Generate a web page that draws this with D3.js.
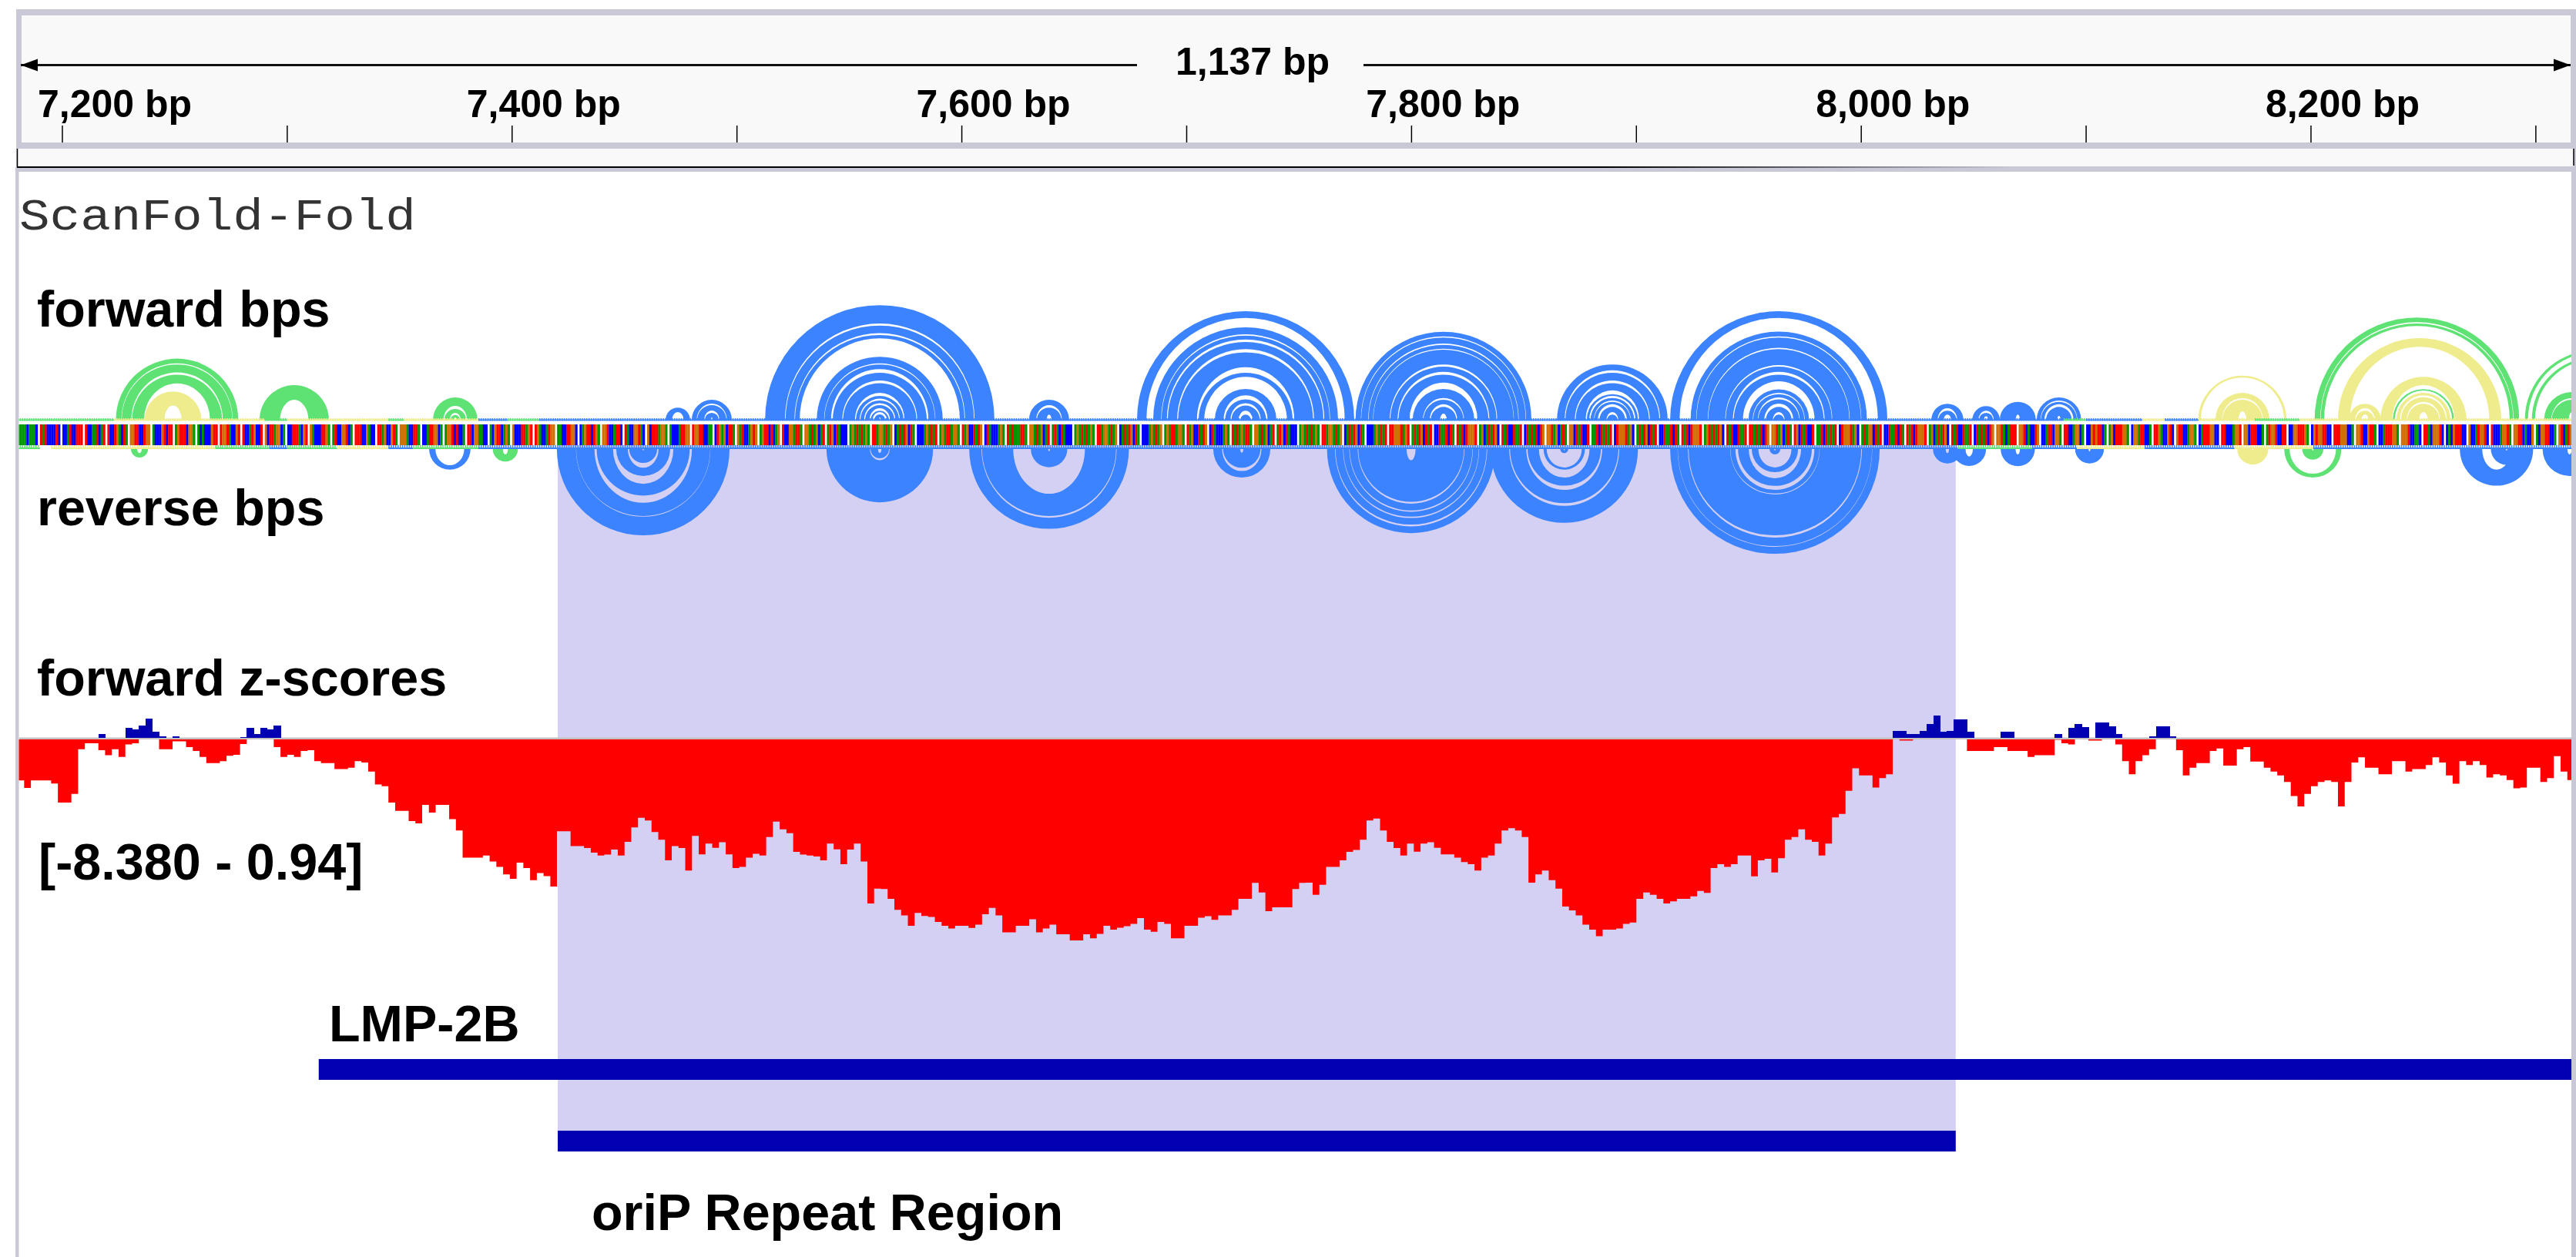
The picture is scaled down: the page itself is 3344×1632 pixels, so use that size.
<!DOCTYPE html>
<html>
<head>
<meta charset="utf-8">
<script src="https://cdn.jsdelivr.net/npm/d3@7"></script>
<style>
  html, body { margin: 0; padding: 0; background: #fff; }
  text { font-family: "Liberation Sans", Arial, sans-serif; font-weight: 700; fill: #000; }
</style>
</head>
<body>
<div id="chart"></div>
<script>
// ---- data ----
const regionStart = 7180, regionEnd = 8317;
const minorTicks = [7200, 7300, 7400, 7500, 7600, 7700, 7800, 7900, 8000, 8100, 8200, 8300];
const labelTicks = [7200, 7400, 7600, 7800, 8000, 8200];
const spanLabel = '1,137 bp';

const features = [
    { name: 'LMP-2B', start: 7314, end: 8317 },
    { name: 'oriP Repeat Region', start: 7420.3, end: 8042 }
];

// sequence, nine bases then one blank position
const baseGroups = ('AAAACAAAC TATCCCCTC CCATCCTTT TCCAATCAT TCCTGACTA GGTTCCTGG ACCCGTCTT AGTTTCGGA ACACCCGTT TGGTACCGT ' +
    'TCCATGCCT GCTTAGGCA CCTTTACGT GACCCTTGA ATCCGGTCA TTTCCGACC TTAGCCGTA GGGACCTTA CCATTGGCA AGGTCTCCA ' +
    'TTCGGAACC ACGTTCAGA GCCCTTAGT TGACCATGG AACCTTGGC CAGTTCTGA GGTCCATTC TACCGGTAC GCTTTAGGA ACCCATTGG ' +
    'TGGTTCCAA CTGAGCTTA GATCCAGTG AGTTCTCAG TCCGGATTA GGATAGCAT ATGCTACCC AGATATAGA TTAGGATAG CATATGCTA ' +
    'CCCAGATAT AGATTAGGA TAGCCTATG CTACCCAGA TATAAATTA GGATAGCAT ATACTACCC AGATATAGA TTAGGATAG CATATGCTA ' +
    'CCCAGATAG AGATTAGGA TAGCCTATG CTACCCAGA TATAGATTA GGATAGCAT ATGCTACCC AGATATAGA TTAGGATAG CATATGCTA ' +
    'CCCAGATAT TTGGGTAGT ATATGCTAT CCTAATCTA TATCTGGGT AGCATATGC TATCCTAAT CTATATCTG GGTAGCATA GGCTATCCT ' +
    'AATCTATAT CTGGGTAGC ATATGCTAT CCTAATCTA TATCTGGGT AGTATATGC TATCCTAAT TTATATCTG GGTAGCATA TGCTATCCT ' +
    'AATCTATAT CTGGGTAGC ATAGGCTAT CCTAATCTA TATCTGGGT AGCATATGC TATCCTAAT CTATATCTG GGTACATTT GGTCACCTG ' +
    'CCATTCGGA TTCCAGGCA CCGTGTTCA AGCTTTGGA CGGATTCCA TTGACCGTC GTTCCAGGA CATTTGGCC TTCCCAGGT GGCTTTCCA ' +
    'ATGGTCCTT CCGGTTTGA CGTGGTTCC TTTGGGCCA GGTCCGTTA CCATTTGGA GGGTCCAAC TTACGGGTC CACGTTTCC GCCATGGTC ' +
    'TCCCAGGTA GGTTCACCG ACGGTTCCA GTCATGG').split(' ');

// base pair arcs: [centre bp, class, [[outer, inner] half spans in bp]]
const forwardArcs = [
    [7251.0, 'green', [[27.2, 25.1], [24.6, 21.1], [20, 16.2]]],
    [7249.2, 'yellow', [[12.6, 6.3]]],
    [7303.1, 'green', [[15.4, 8.9]]],
    [7374.7, 'green', [[9.9, 6.2], [4.8, 3.1], [2.1, 1]]],
    [7473.7, 'blue', [[5.4, 3.4]]],
    [7488.8, 'blue', [[8.9, 7.2], [6.5, 4.1], [3.1, 1]]],
    [7563.5, 'blue', [[51, 42.8], [41.9, 38.5], [37.7, 36.2], [28, 25.1], [24.6, 22.5], [20.9, 17.5], [16.3, 12], [10.6, 9.4], [8.6, 7.4], [6.5, 5.1], [4, 3.4], [2.4, 1]]],
    [7638.8, 'blue', [[8.9, 6.5], [5.4, 2.3]]],
    [7726.2, 'blue', [[48.3, 45.3], [41.1, 38], [37.4, 35.7], [34.6, 31.4], [30, 23.4], [20.9, 19.1], [13.7, 10.9], [9.1, 7.4], [6.3, 4], [2.3, 0.6]]],
    [7814.2, 'blue', [[39.1, 37.1], [36.6, 33.9], [33.3, 31.6], [31.2, 24.6], [23.6, 21.3], [20, 16.5], [13.7, 9.7], [8.9, 6.9], [5.7, 2.7]]],
    [7889.3, 'blue', [[24.6, 22], [20.9, 17.5], [16.3, 13.1], [11.4, 10.6], [9.7, 8.6], [8, 6.9], [5.7, 3.4], [2.3, 0.6]]],
    [7963.3, 'blue', [[48.3, 45.3], [39.2, 37.1], [36.6, 32], [31.4, 24.3], [23.6, 21.3], [20, 17.1], [13.5, 12], [11.4, 9.9], [9.1, 7.2], [5.7, 3.4], [2.3, 0.6]]],
    [8038.3, 'blue', [[7.1, 5.1], [4, 2.3]]],
    [8055.5, 'blue', [[6.1, 4], [3.1, 1.5]]],
    [8069.6, 'blue', [[8, 2.3]]],
    [8087.9, 'blue', [[9.9, 8.6], [8, 6.9], [5.7, 1.7]]],
    [8169.5, 'yellow', [[19.6, 18.8], [12, 9.6], [8.9, 3.8]]],
    [8247.1, 'green', [[45.5, 43.4], [42.8, 41.7]]],
    [8248.3, 'yellow', [[36.3, 32.5]]],
    [8224, 'yellow', [[7.1, 5.1], [4, 2.3]]],
    [8250, 'yellow', [[19.1, 15.4], [12, 10.9], [10, 8], [7.1, 3.4]]],
    [8250, 'green', [[13.6, 13]]],
    [8325.9, 'green', [[30.8, 29.8], [27.7, 26.7]]],
    [8316, 'green', [[12.3, 9.6], [8.9, 3.4]]]
];
const reverseArcs = [
    [7234.3, 'green', [[3.8, 1.8]]],
    [7372.3, 'blue', [[9.2, 7.2]]],
    [7397, 'green', [[5.6, 2.4]]],
    [7458.3, 'blue', [[38.4, 30.1], [29.8, 23.9], [20.7, 15.5], [12, 8.3], [6.2, 0.7]]],
    [7563.5, 'blue', [[23.7, 5], [4.1, 1.7]]],
    [7638.8, 'blue', [[35.5, 30.6], [29.8, 19.9], [8.1, 1]]],
    [7724.5, 'blue', [[12.7, 9.8], [8.3, 1.6]]],
    [7799.8, 'blue', [[37.4, 34.4], [33.6, 30.7], [30.1, 27.9], [27.3, 24.3], [23.5, 5]]],
    [7867.9, 'blue', [[32.8, 25.3], [24.1, 18.2], [16.3, 12.7], [9.2, 8.2], [1.8, 0.6]]],
    [7961.6, 'blue', [[46.6, 43.5], [43.2, 39.4], [38.4, 20.2], [19.8, 18.2], [16.4, 13], [10.3, 8.2], [2.4, 0.7]]],
    [8038.3, 'blue', [[6.4, 1.8]]],
    [8048, 'blue', [[7.5, 3.3]]],
    [8069.6, 'blue', [[7.6, 2.4]]],
    [8101.5, 'blue', [[6.4, 1]]],
    [8174.1, 'yellow', [[6.9, 0.5]]],
    [8200.8, 'green', [[12.7, 11], [4.7, 0.7]]],
    [8282.5, 'blue', [[16.3, 9.2]]],
    [8287, 'blue', [[7, 0.7]]],
    [8315, 'blue', [[12, 2.4]]]
];

// short pairs along the sequence: [start bp, end bp, class]
const forwardRow = [
    [7180, 7223, 'green'], [7223, 7290, 'yellow'], [7290, 7300, 'green'], [7300, 7345, 'yellow'], [7345, 7352, 'green'],
    [7352, 7385, 'yellow'], [7385, 7398, 'blue'], [7398, 7412, 'green'], [7412, 8090, 'blue'], [8090, 8100, 'green'],
    [8100, 8125, 'blue'], [8125, 8135, 'yellow'], [8135, 8150, 'blue'], [8150, 8175, 'yellow'], [8175, 8195, 'green'],
    [8195, 8317, 'yellow']
];
const reverseRow = [
    [7180, 7190, 'green'], [7195, 7268, 'yellow'], [7268, 7292, 'green'], [7292, 7300, 'blue'], [7300, 7322, 'green'],
    [7322, 7345, 'yellow'], [7345, 7356, 'blue'], [7356, 7385, 'green'], [7385, 8043, 'blue'], [8043, 8076, 'green'],
    [8076, 8096, 'blue'], [8096, 8126, 'yellow'], [8126, 8166, 'blue'], [8166, 8201, 'yellow'], [8201, 8316, 'blue']
];

// z-score track, one value per 3 bp starting at regionStart
const zStep = 3;
const zNegative = [
    -1.71, -2.02, -1.71, -1.71, -1.71, -1.84, -2.63, -2.63, -2.27, -0.41, -0.16, -0.16, -0.45, -0.66, -0.41, -0.73, -0.21, -0.16, 0, 0,
    0, -0.41, -0.41, -0.08, -0.08, -0.32, -0.48, -0.73, -0.99, -0.99, -0.91, -0.68, -0.64, -0.19, 0, 0, 0, 0, -0.32, -0.73,
    -0.64, -0.73, -0.48, -0.45, -0.91, -0.99, -0.99, -1.24, -1.24, -1.18, -0.91, -0.96, -1.34, -1.88, -1.95, -2.63, -2.98, -2.98, -3.40, -3.50,
    -2.73, -3.05, -2.73, -2.73, -3.32, -3.80, -4.93, -4.93, -4.93, -4.84, -5.09, -5.31, -5.63, -5.81, -5.14, -5.36, -5.87, -5.57, -5.70, -6.13,
    -3.83, -3.83, -4.45, -4.45, -4.53, -4.72, -4.84, -4.80, -4.59, -4.84, -4.27, -3.67, -3.27, -3.38, -3.86, -4.18, -5.04, -4.45, -4.53, -5.47,
    -4.02, -4.79, -4.34, -4.52, -4.29, -4.79, -5.36, -5.31, -4.93, -4.77, -4.84, -4.07, -3.43, -3.75, -3.91, -4.69, -4.80, -4.84, -4.88, -5.04,
    -4.34, -4.58, -5.20, -4.59, -4.34, -5.09, -6.84, -6.22, -6.24, -6.65, -7.10, -7.34, -7.77, -7.23, -7.36, -7.40, -7.61, -7.77, -7.88, -7.77,
    -7.77, -7.86, -7.72, -7.29, -7.02, -7.34, -8.04, -8.04, -7.77, -7.77, -7.50, -8.04, -7.88, -7.72, -8.12, -8.12, -8.38, -8.38, -8.12, -8.29,
    -8.11, -7.77, -7.93, -7.85, -7.79, -7.69, -7.45, -7.93, -8.02, -7.61, -7.69, -8.29, -8.29, -7.77, -7.77, -7.43, -7.37, -7.52, -7.34, -7.34,
    -7.10, -6.65, -6.65, -5.98, -6.38, -7.16, -7.00, -7.00, -7.00, -6.24, -5.98, -5.97, -6.48, -6.06, -5.31, -5.31, -5.04, -4.69, -4.61, -4.18,
    -3.38, -3.30, -3.80, -4.27, -4.53, -4.84, -4.34, -4.68, -4.34, -4.29, -4.52, -4.79, -4.79, -4.93, -5.11, -5.20, -5.47, -4.93, -4.84, -4.34,
    -3.80, -3.70, -3.80, -4.07, -5.97, -5.63, -5.47, -5.87, -6.22, -6.97, -7.13, -7.34, -7.72, -7.93, -8.20, -7.93, -7.93, -7.88, -7.69, -7.63,
    -6.65, -6.38, -6.48, -6.65, -6.84, -6.75, -6.65, -6.65, -6.54, -6.32, -6.40, -5.36, -5.20, -5.31, -5.20, -4.84, -4.84, -5.71, -5.04, -4.98,
    -5.55, -4.95, -4.18, -4.07, -3.75, -4.18, -4.27, -4.84, -4.34, -3.25, -3.11, -2.14, -1.20, -1.50, -1.50, -2.01, -1.61, -1.45, 0, -0.05,
    -0.05, 0, 0, 0, 0, 0, 0, 0, 0, -0.48, -0.48, -0.48, -0.48, -0.32, -0.32, -0.48, -0.48, -0.48, -0.73, -0.66,
    -0.66, -0.66, -0.02, -0.16, -0.21, 0, 0, -0.05, -0.05, 0, 0, -0.21, -0.91, -1.45, -0.91, -0.66, -0.41, 0, 0, 0,
    -0.45, -1.50, -1.18, -0.99, -0.99, -0.48, -0.38, -1.09, -1.09, -0.41, -0.32, -0.92, -0.92, -1.18, -1.34, -1.50, -1.77, -2.36, -2.79, -2.27,
    -1.95, -1.77, -1.71, -1.77, -2.79, -1.77, -0.96, -0.75, -1.18, -1.18, -1.45, -1.45, -0.91, -0.91, -1.34, -1.24, -1.24, -1.07, -0.75, -0.96,
    -1.50, -1.85, -0.91, -1.07, -0.91, -1.07, -1.59, -1.45, -1.50, -1.69, -2.04, -2.01, -1.18, -1.18, -1.77, -1.61, -0.70, -1.34, -1.69
];
const zPositiveBp = [7216, 7228, 7231, 7234, 7237, 7240, 7243, 7249, 7279, 7282, 7285, 7288, 7291, 7294,
    8014, 8017, 8020, 8023, 8026, 8029, 8032, 8035, 8038, 8041, 8044, 8047, 8062, 8065, 8086,
    8092, 8095, 8098, 8104, 8107, 8110, 8113, 8128, 8131, 8134, 8137];
const zPositive = [0.15, 0.40, 0.34, 0.50, 0.81, 0.24, 0.04, 0.04, 0.02, 0.40, 0.15, 0.40, 0.34, 0.50,
    0.29, 0.29, 0.13, 0.13, 0.29, 0.56, 0.91, 0.24, 0.29, 0.75, 0.75, 0.24, 0.24, 0.24, 0.13,
    0.40, 0.56, 0.45, 0.64, 0.64, 0.48, 0.13, 0.05, 0.48, 0.48, 0.04];
const zRangeLabel = '[-8.380 - 0.94]';

const baseColors = { A: '#009600', C: '#0000ff', G: '#d17105', T: '#ff0000' };
const arcColors = { blue: '#3c83ff', green: '#5fe274', yellow: '#eeec8c' };
const bandColor = '#c8c8d6';

// ---- layout ----
const width = 3344, height = 1632;
const x = d3.scaleLinear().domain([regionStart, regionEnd]).range([22.6, 22.6 + 1137 * 2.919]);
const yNeg = d3.scaleLinear().domain([-8.38, 0]).range([1221, 960]);
const yPos = d3.scaleLinear().domain([0, 0.94]).range([957.5, 928.5]);
const span = bp => x(regionStart + bp) - x(regionStart);

const svg = d3.select('#chart')
    .append('svg')
    .attr('width', width)
    .attr('height', height)
    .style('display', 'block');

const defs = svg.append('defs');
defs.append('clipPath').attr('id', 'panel')
    .append('rect').attr('x', 24.5).attr('y', 223).attr('width', 3313.5).attr('height', height - 223);
const fade = defs.append('linearGradient').attr('id', 'fade')
    .attr('gradientUnits', 'userSpaceOnUse')
    .attr('x1', 22).attr('x2', 3340).attr('y1', 0).attr('y2', 0);
fade.append('stop').attr('offset', 0.62).attr('stop-color', '#000');
fade.append('stop').attr('offset', 0.78).attr('stop-color', bandColor);

// ruler frame
svg.append('rect').attr('x', 21).attr('y', 12).attr('width', width - 21).attr('height', 205).attr('fill', bandColor);
svg.append('rect').attr('x', 28).attr('y', 20).attr('width', 3309).attr('height', 165).attr('fill', '#f9f9f9');
svg.append('rect').attr('x', 20).attr('y', 217).attr('width', width - 20).attr('height', height - 217).attr('fill', bandColor);
svg.append('rect').attr('x', 22).attr('y', 193).attr('width', 3319).attr('height', 23).attr('fill', '#f9f9f9');
svg.append('rect').attr('x', 22).attr('y', 216).attr('width', 3319).attr('height', 2).attr('fill', 'url(#fade)');
svg.append('line').attr('x1', 22.5).attr('x2', 22.5).attr('y1', 193).attr('y2', 217).attr('stroke', '#000').attr('stroke-width', 1.5);
svg.append('line').attr('x1', 3341).attr('x2', 3341).attr('y1', 193).attr('y2', 215).attr('stroke', '#000').attr('stroke-width', 1.5);
svg.append('rect').attr('x', 24.5).attr('y', 223).attr('width', 3313.5).attr('height', height - 223).attr('fill', '#fff');

// span arrow
[[27, 1476], [1770, 3337]].forEach(seg => {
    svg.append('rect').attr('x', seg[0]).attr('y', 83).attr('width', seg[1] - seg[0]).attr('height', 3).attr('fill', '#111');
});
svg.append('path').attr('d', 'M27,84.5L49,76.5L49,92.5Z').attr('fill', '#000');
svg.append('path').attr('d', 'M3337,84.5L3315,76.5L3315,92.5Z').attr('fill', '#000');
svg.append('text').attr('x', 1626).attr('y', 97).attr('text-anchor', 'middle').style('font-size', '50px').text(spanLabel);

svg.selectAll('.tick').data(minorTicks).enter().append('line')
    .attr('class', 'tick')
    .attr('x1', d => x(d)).attr('x2', d => x(d))
    .attr('y1', 163).attr('y2', 185)
    .attr('stroke', '#000').attr('stroke-width', 1.5);

svg.selectAll('.tick-label').data(labelTicks).enter().append('text')
    .attr('class', 'tick-label')
    .attr('x', d => Math.max(149, x(d) + 41))
    .attr('y', 152)
    .attr('text-anchor', 'middle')
    .style('font-size', '50px')
    .text(d => d3.format(',')(d) + ' bp');

const panel = svg.append('g').attr('clip-path', 'url(#panel)');

// highlighted oriP region
const oriP = features[1];
panel.append('rect')
    .attr('x', x(oriP.start)).attr('width', x(oriP.end) - x(oriP.start))
    .attr('y', 578).attr('height', 917)
    .attr('fill', '#d4d0f4');

// arcs: bands get wider towards the base than at the top, the gaps narrower
function bandPath(ring, next) {
    const yo = span(ring[0]), yi = span(ring[1]);
    let xi = Math.max(yi - 0.4 * (yo - yi), 0.4 * yi);
    if (next) {
        const nextOuter = span(next[0]);
        xi = Math.max(xi, nextOuter + 0.3 * (yi - nextOuter));
    }
    return `M${-yo},0A${yo},${yo} 0 0 1 ${yo},0L${xi},0A${xi},${yi} 0 0 0 ${-xi},0Z`;
}
function drawArcs(rows, baseY, flip) {
    rows.forEach(row => {
        const g = panel.append('g').attr('transform', `translate(${x(row[0])},${baseY}) scale(1,${flip})`);
        g.selectAll('path').data(row[2]).enter().append('path')
            .attr('fill', arcColors[row[1]])
            .attr('d', (d, i) => bandPath(d, row[2][i + 1]));
    });
}
drawArcs(forwardArcs, 545, 1);
drawArcs(reverseArcs, 583, -1);

// rows of short pairs on both sides of the sequence
function drawRow(rows, top, solidY) {
    rows.forEach(row => {
        const g = panel.append('g');
        g.append('rect')
            .attr('x', x(row[0])).attr('width', x(row[1]) - x(row[0]))
            .attr('y', solidY).attr('height', 2)
            .attr('fill', arcColors[row[2]]);
        g.selectAll('rect.tooth').data(d3.range(row[0], row[1])).enter().append('rect')
            .attr('class', 'tooth')
            .attr('x', d => x(d)).attr('width', 1.6)
            .attr('y', top).attr('height', 4)
            .attr('fill', arcColors[row[2]]);
    });
}
drawRow(forwardRow, 543, 544.5);
drawRow(reverseRow, 578, 581);

// sequence strip
panel.append('rect').attr('x', 24.5).attr('y', 546.5).attr('width', 3313.5).attr('height', 31.5).attr('fill', '#fff');
baseGroups.forEach((group, g) => {
    const strip = panel.append('g');
    strip.selectAll('rect').data(group.split('')).enter().append('rect')
        .attr('x', (d, i) => x(regionStart + g * 10 + i))
        .attr('width', span(1) + 0.3)
        .attr('y', 551).attr('height', 27)
        .attr('fill', d => baseColors[d]);
});

// z-score track
const zArea = d3.area()
    .x((d, i) => x(regionStart + i * zStep))
    .y0(yNeg(0))
    .y1(d => yNeg(d))
    .curve(d3.curveStepAfter);
panel.append('path')
    .datum(zNegative.concat([zNegative[zNegative.length - 1]]))
    .attr('d', zArea)
    .attr('fill', '#ff0000');
panel.append('rect').attr('x', 24.5).attr('y', 957.5).attr('width', 3313.5).attr('height', 2.5).attr('fill', '#c4c0c0');
panel.selectAll('.zpos').data(zPositive).enter().append('rect')
    .attr('class', 'zpos')
    .attr('x', (d, i) => x(zPositiveBp[i]))
    .attr('width', span(zStep) + 0.6)
    .attr('y', d => yPos(d))
    .attr('height', d => yPos(0) - yPos(d))
    .attr('shape-rendering', 'crispEdges')
    .attr('fill', '#0000b2');

// annotation bars
const featureY = { 'LMP-2B': 1375, 'oriP Repeat Region': 1468 };
panel.selectAll('.feature').data(features).enter().append('rect')
    .attr('class', 'feature')
    .attr('x', d => x(d.start)).attr('width', d => x(d.end) - x(d.start))
    .attr('y', d => featureY[d.name]).attr('height', 27)
    .attr('fill', '#0000b2');

// text labels
const labels = [
    ['forward bps', 48, 424],
    ['reverse bps', 48, 682],
    ['forward z-scores', 48, 903],
    [zRangeLabel, 50, 1142],
    [features[0].name, 427, 1352],
    [features[1].name, 768, 1597]
];
svg.selectAll('.track-label').data(labels).enter().append('text')
    .attr('class', 'track-label')
    .attr('x', d => d[1]).attr('y', d => d[2])
    .style('font-size', '66.5px')
    .text(d => d[0]);

svg.append('text')
    .attr('x', 25).attr('y', 298)
    .attr('textLength', 515).attr('lengthAdjust', 'spacingAndGlyphs')
    .style('font-family', '"Liberation Mono", monospace')
    .style('font-weight', 400)
    .style('font-size', '58px')
    .style('fill', '#333')
    .text('ScanFold-Fold');
</script>
</body>
</html>
